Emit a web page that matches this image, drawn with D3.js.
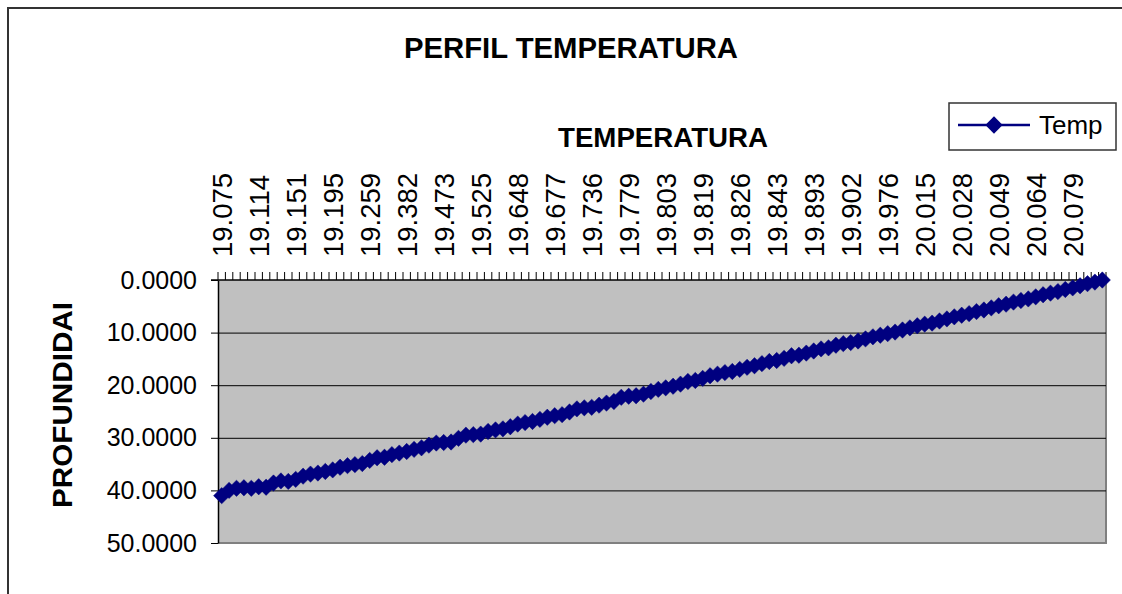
<!DOCTYPE html>
<html>
<head>
<meta charset="utf-8">
<script src="https://cdn.jsdelivr.net/npm/d3@7"></script>
<style>
  body { margin: 0; background: #fff; }
  svg text { font-family: "Liberation Sans", Arial, sans-serif; }
</style>
</head>
<body>
<div id="chart"></div>
<script>
// depth (m) per reading, left to right along the category axis
const depth = [
  41.0, 40.0, 39.6, 39.5, 39.6, 39.3, 39.4, 38.6, 38.2, 38.3,
  37.9, 37.3, 36.9, 36.7, 36.4, 36.1, 35.6, 35.3, 35.1, 34.9,
  34.3, 33.8, 33.7, 33.2, 32.9, 32.6, 32.2, 31.9, 31.4, 31.0,
  30.9, 30.8, 30.1, 29.5, 29.4, 29.3, 28.8, 28.5, 28.3, 27.9,
  27.4, 27.1, 26.9, 26.5, 26.1, 25.8, 25.6, 25.1, 24.5, 24.3,
  24.2, 23.8, 23.4, 23.1, 22.3, 22.1, 22.0, 21.7, 21.2, 20.8,
  20.5, 20.2, 19.8, 19.3, 19.1, 18.7, 18.2, 17.9, 17.6, 17.4,
  17.0, 16.6, 16.3, 15.9, 15.5, 15.3, 14.9, 14.4, 14.3, 13.9,
  13.5, 13.1, 12.9, 12.4, 12.1, 11.9, 11.6, 11.2, 10.8, 10.5,
  10.2, 9.9, 9.5, 9.1, 8.7, 8.4, 8.2, 7.8, 7.4, 7.0,
  6.7, 6.4, 6.0, 5.7, 5.3, 4.9, 4.6, 4.2, 3.9, 3.6,
  3.2, 2.8, 2.5, 2.2, 1.8, 1.5, 1.1, 0.7, 0.4, 0.0
];
// temperature labels shown on the top axis (every 5th reading)
const tempLabels = [
  "19.075", "19.114", "19.151", "19.195", "19.259", "19.382", "19.473", "19.525",
  "19.648", "19.677", "19.736", "19.779", "19.803", "19.819", "19.826", "19.843",
  "19.893", "19.902", "19.976", "20.015", "20.028", "20.049", "20.064", "20.079"
];
const labelStep = 5;
const depthTicks = [0, 10, 20, 30, 40, 50];
const seriesName = "Temp";

const width = 1122, height = 594;
const plot = { left: 218, right: 1106, top: 280, bottom: 543 };
const navy = "#000080";

const svg = d3.select("#chart").append("svg")
  .attr("width", width)
  .attr("height", height);

svg.append("rect").attr("width", width).attr("height", height).attr("fill", "#fff");

// chart border (runs off the right and bottom)
svg.append("path")
  .attr("d", `M8,${height + 5}V8H${width + 5}`)
  .attr("fill", "none")
  .attr("stroke", "#333")
  .attr("stroke-width", 2);

const x = d3.scaleBand()
  .domain(d3.range(depth.length))
  .range([plot.left, plot.right]);

const y = d3.scaleLinear()
  .domain([0, 50])
  .range([plot.top, plot.bottom]);

const cx = i => x(i) + x.bandwidth() / 2;

// plot area
svg.append("rect")
  .attr("x", plot.left)
  .attr("y", plot.top)
  .attr("width", plot.right - plot.left)
  .attr("height", plot.bottom - plot.top)
  .attr("fill", "#c0c0c0");

// right / bottom edge of plot area
svg.append("path")
  .attr("d", `M${plot.right},${plot.top}V${plot.bottom}H${plot.left}`)
  .attr("fill", "none")
  .attr("stroke", "#808080")
  .attr("stroke-width", 2);

// gridlines
svg.append("g")
  .selectAll("line")
  .data(depthTicks.filter(d => d > 0 && d < 50))
  .join("line")
  .attr("x1", plot.left)
  .attr("x2", plot.right)
  .attr("y1", d => y(d) + 0.5)
  .attr("y2", d => y(d) + 0.5)
  .attr("stroke", "#000")
  .attr("stroke-width", 1);

// depth axis
const yAxis = svg.append("g")
  .attr("transform", `translate(${plot.left},0)`)
  .call(d3.axisLeft(y)
    .tickValues(depthTicks)
    .tickFormat(d3.format(".4f"))
    .tickSize(7)
    .tickSizeOuter(0)
    .tickPadding(14));
yAxis.select(".domain").attr("stroke", "#000").attr("stroke-width", 1.5);
yAxis.selectAll(".tick line").attr("stroke", "#000");
yAxis.selectAll("text")
  .attr("font-size", 25)
  .attr("fill", "#000")
  .style("font-family", "'Liberation Sans', Arial, sans-serif");

// category axis on top
const xAxis = svg.append("g");
xAxis.append("line")
  .attr("x1", plot.left - 7)
  .attr("x2", plot.right)
  .attr("y1", plot.top)
  .attr("y2", plot.top)
  .attr("stroke", "#000")
  .attr("stroke-width", 1.5);
xAxis.selectAll(".ctick")
  .data(d3.range(depth.length + 1))
  .join("line")
  .attr("class", "ctick")
  .attr("x1", i => (i < depth.length ? x(i) : plot.right))
  .attr("x2", i => (i < depth.length ? x(i) : plot.right))
  .attr("y1", plot.top)
  .attr("y2", plot.top - 8)
  .attr("stroke", "#000")
  .attr("stroke-width", 1);
xAxis.selectAll(".clabel")
  .data(tempLabels)
  .join("text")
  .attr("class", "clabel")
  .attr("transform", (d, k) => `translate(${cx(k * labelStep)},${plot.top - 23}) rotate(-90)`)
  .attr("text-anchor", "start")
  .attr("dy", "0.36em")
  .attr("font-size", 27.5)
  .text(d => d);

// series
const line = d3.line()
  .x((d, i) => cx(i))
  .y(d => y(d));

svg.append("path")
  .datum(depth)
  .attr("d", line)
  .attr("fill", "none")
  .attr("stroke", navy)
  .attr("stroke-width", 2.5);

const diamond = d3.symbol().type(d3.symbolDiamond2).size(170);

svg.append("g")
  .selectAll("path")
  .data(depth)
  .join("path")
  .attr("transform", (d, i) => `translate(${cx(i)},${y(d)})`)
  .attr("d", diamond)
  .attr("fill", navy)
  .attr("stroke", navy)
  .attr("stroke-width", 0.5);

// titles
svg.append("text")
  .attr("x", 571)
  .attr("y", 58)
  .attr("text-anchor", "middle")
  .attr("font-size", 29)
  .attr("font-weight", "bold")
  .attr("textLength", 334)
  .attr("lengthAdjust", "spacingAndGlyphs")
  .text("PERFIL TEMPERATURA");

svg.append("text")
  .attr("x", 663)
  .attr("y", 147)
  .attr("text-anchor", "middle")
  .attr("font-size", 27)
  .attr("font-weight", "bold")
  .attr("textLength", 210)
  .attr("lengthAdjust", "spacingAndGlyphs")
  .text("TEMPERATURA");

svg.append("text")
  .attr("transform", "translate(72,405) rotate(-90)")
  .attr("text-anchor", "middle")
  .attr("font-size", 27)
  .attr("font-weight", "bold")
  .attr("textLength", 206)
  .attr("lengthAdjust", "spacingAndGlyphs")
  .text("PROFUNDIDAI");

// legend
const legend = svg.append("g").attr("transform", "translate(949,103)");
legend.append("rect")
  .attr("width", 167)
  .attr("height", 47)
  .attr("fill", "#fff")
  .attr("stroke", "#333")
  .attr("stroke-width", 1.5);
legend.append("line")
  .attr("x1", 9).attr("x2", 81)
  .attr("y1", 22).attr("y2", 22)
  .attr("stroke", navy)
  .attr("stroke-width", 2.5);
legend.append("path")
  .attr("transform", "translate(45,22)")
  .attr("d", d3.symbol().type(d3.symbolDiamond2).size(190))
  .attr("fill", navy);
legend.append("text")
  .attr("x", 90)
  .attr("y", 31)
  .attr("font-size", 26)
  .text(seriesName);
</script>
</body>
</html>
